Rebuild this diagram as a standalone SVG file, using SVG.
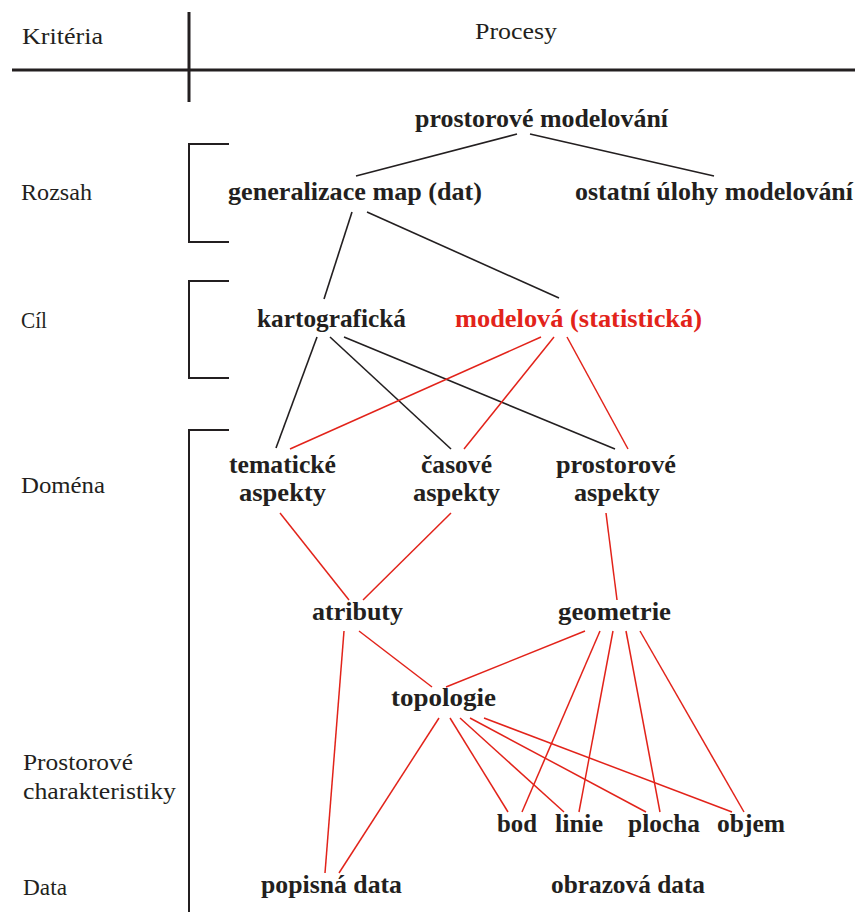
<svg xmlns="http://www.w3.org/2000/svg" width="855" height="912" viewBox="0 0 855 912">
<style>
text{font-family:"Liberation Serif","DejaVu Serif",serif;fill:#231f20}
.lab{font-size:24px}
.n{font-size:25px;font-weight:bold}
.red{fill:#e2231a}
.frame{stroke:#231f20;fill:none}
.k{stroke:#231f20;stroke-width:1.6;fill:none}
.r{stroke:#e2231a;stroke-width:1.5;fill:none}
</style>
<rect width="855" height="912" fill="#fff"/>
<g id="frame">
<line class="frame" x1="12" y1="70" x2="855" y2="70" stroke-width="3"/>
<line class="frame" x1="189" y1="12" x2="189" y2="102" stroke-width="3"/>
<path class="frame" stroke-width="2" d="M229,144 H189 V242 H229"/>
<path class="frame" stroke-width="2" d="M229,281 H189 V378 H229"/>
<path class="frame" stroke-width="2" d="M229,430 H189 V912"/>
</g>
<g id="criteria">
<text class="lab" x="22" y="44" textLength="81" lengthAdjust="spacingAndGlyphs">Kritéria</text>
<text class="lab" x="475" y="39" textLength="82" lengthAdjust="spacingAndGlyphs">Procesy</text>
<text class="lab" x="21" y="200" textLength="71" lengthAdjust="spacingAndGlyphs">Rozsah</text>
<text class="lab" x="21" y="328" textLength="26" lengthAdjust="spacingAndGlyphs">Cíl</text>
<text class="lab" x="21" y="493" textLength="84" lengthAdjust="spacingAndGlyphs">Doména</text>
<text class="lab" x="23" y="770" textLength="110" lengthAdjust="spacingAndGlyphs">Prostorové</text>
<text class="lab" x="23" y="799" textLength="153" lengthAdjust="spacingAndGlyphs">charakteristiky</text>
<text class="lab" x="23" y="895" textLength="44" lengthAdjust="spacingAndGlyphs">Data</text>
</g>
<g id="connectors">
<line class="k" x1="517" y1="134" x2="356" y2="176"/>
<line class="k" x1="530" y1="134" x2="714" y2="176"/>
<line class="k" x1="352" y1="212" x2="324" y2="299"/>
<line class="k" x1="367" y1="212" x2="559" y2="298"/>
<line class="k" x1="317" y1="337" x2="276" y2="448"/>
<line class="k" x1="330" y1="337" x2="451" y2="449"/>
<line class="k" x1="344" y1="337" x2="615" y2="449"/>
<line class="r" x1="541" y1="337" x2="290" y2="449"/>
<line class="r" x1="554" y1="337" x2="464" y2="449"/>
<line class="r" x1="567" y1="337" x2="628" y2="449"/>
<line class="r" x1="280" y1="513" x2="349" y2="600"/>
<line class="r" x1="451" y1="513" x2="363" y2="600"/>
<line class="r" x1="606" y1="513" x2="617" y2="600"/>
<line class="r" x1="344" y1="631" x2="325" y2="873"/>
<line class="r" x1="359" y1="631" x2="432" y2="687"/>
<line class="r" x1="585" y1="631" x2="446" y2="687"/>
<line class="r" x1="600" y1="631" x2="522" y2="812"/>
<line class="r" x1="613" y1="631" x2="579" y2="812"/>
<line class="r" x1="626" y1="631" x2="660" y2="812"/>
<line class="r" x1="640" y1="631" x2="744" y2="812"/>
<line class="r" x1="439" y1="718" x2="339" y2="873"/>
<line class="r" x1="450" y1="718" x2="508" y2="812"/>
<line class="r" x1="460" y1="718" x2="564" y2="812"/>
<line class="r" x1="470" y1="718" x2="646" y2="812"/>
<line class="r" x1="484" y1="718" x2="732" y2="812"/>
</g>
<g id="n-prostorove-modelovani"><text class="n" x="415" y="127" textLength="253" lengthAdjust="spacingAndGlyphs">prostorové modelování</text></g>
<g id="n-generalizace"><text class="n" x="228" y="200" textLength="254" lengthAdjust="spacingAndGlyphs">generalizace map (dat)</text></g>
<g id="n-ostatni"><text class="n" x="575" y="200" textLength="278" lengthAdjust="spacingAndGlyphs">ostatní úlohy modelování</text></g>
<g id="n-kartograficka"><text class="n" x="257" y="327" textLength="149" lengthAdjust="spacingAndGlyphs">kartografická</text></g>
<g id="n-modelova"><text class="n red" x="455" y="327" textLength="247" lengthAdjust="spacingAndGlyphs">modelová (statistická)</text></g>
<g id="n-tematicke"><text class="n" x="229" y="473" textLength="107" lengthAdjust="spacingAndGlyphs">tematické</text><text class="n" x="239" y="501" textLength="87" lengthAdjust="spacingAndGlyphs">aspekty</text></g>
<g id="n-casove"><text class="n" x="421" y="473" textLength="71" lengthAdjust="spacingAndGlyphs">časové</text><text class="n" x="413" y="501" textLength="87" lengthAdjust="spacingAndGlyphs">aspekty</text></g>
<g id="n-prostorove-aspekty"><text class="n" x="556" y="473" textLength="120" lengthAdjust="spacingAndGlyphs">prostorové</text><text class="n" x="574" y="501" textLength="86" lengthAdjust="spacingAndGlyphs">aspekty</text></g>
<g id="n-atributy"><text class="n" x="312" y="620" textLength="91" lengthAdjust="spacingAndGlyphs">atributy</text></g>
<g id="n-geometrie"><text class="n" x="558" y="620" textLength="113" lengthAdjust="spacingAndGlyphs">geometrie</text></g>
<g id="n-topologie"><text class="n" x="391" y="706" textLength="105" lengthAdjust="spacingAndGlyphs">topologie</text></g>
<g id="n-bod"><text class="n" x="497" y="832" textLength="40" lengthAdjust="spacingAndGlyphs">bod</text></g>
<g id="n-linie"><text class="n" x="555" y="832" textLength="48" lengthAdjust="spacingAndGlyphs">linie</text></g>
<g id="n-plocha"><text class="n" x="628" y="832" textLength="72" lengthAdjust="spacingAndGlyphs">plocha</text></g>
<g id="n-objem"><text class="n" x="717" y="832" textLength="68" lengthAdjust="spacingAndGlyphs">objem</text></g>
<g id="n-popisna"><text class="n" x="261" y="893" textLength="141" lengthAdjust="spacingAndGlyphs">popisná data</text></g>
<g id="n-obrazova"><text class="n" x="551" y="893" textLength="154" lengthAdjust="spacingAndGlyphs">obrazová data</text></g>
</svg>
